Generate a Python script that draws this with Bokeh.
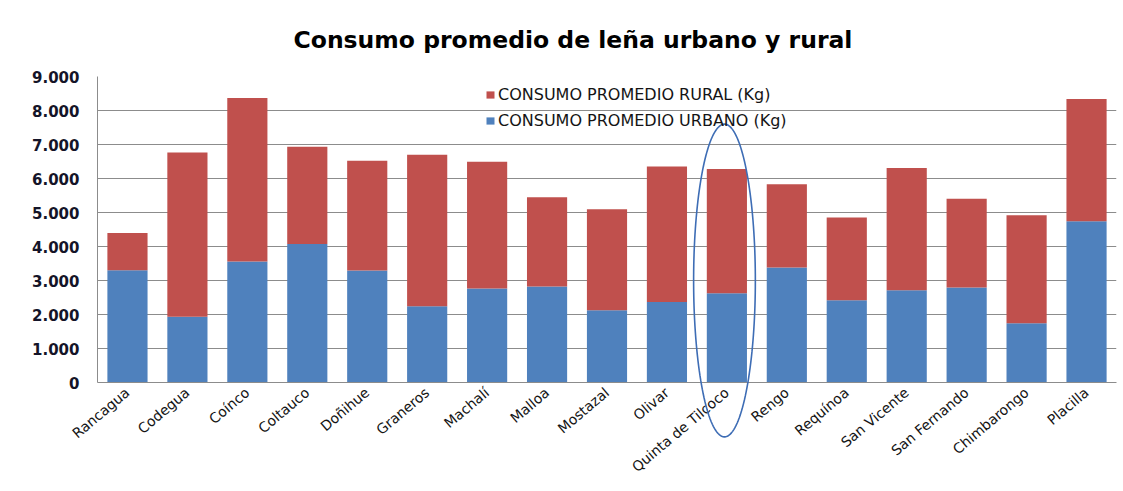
import numpy as np
from bokeh.plotting import figure
from bokeh.models import (FactorRange, Range1d, Legend, LegendItem, FixedTicker,
                          CustomJSTickFormatter, ColumnDataSource)
from bokeh.embed import file_html
from bokeh.resources import INLINE

# ---- data ----
comunas = ["Rancagua", "Codegua", "Coínco", "Coltauco", "Doñihue", "Graneros",
           "Machalí", "Malloa", "Mostazal", "Olivar", "Quinta de Tilcoco", "Rengo",
           "Requínoa", "San Vicente", "San Fernando", "Chimbarongo", "Placilla"]
urbano = [3300, 1935, 3560, 4076, 3296, 2240, 2768, 2827, 2125, 2370, 2625, 3380,
          2420, 2712, 2792, 1745, 4742]
total = [4400, 6765, 8370, 6933, 6522, 6698, 6493, 5446, 5094, 6350, 6280, 5829,
         4850, 6308, 5408, 4918, 8336]
rural = [t - u for t, u in zip(total, urbano)]
y_ticks = [0, 1000, 2000, 3000, 4000, 5000, 6000, 7000, 8000, 9000]
serie_rural = "CONSUMO PROMEDIO RURAL (Kg)"
serie_urbano = "CONSUMO PROMEDIO URBANO (Kg)"
titulo = "Consumo promedio de leña urbano y rural"
destacado = "Quinta de Tilcoco"

BLUE = "#4F81BD"
RED = "#C0504D"
GRID = "#8C8C8C"

Y_MAX = 9000
W, H = 1120, 490
FR_LEFT, FR_RIGHT, FR_TOP, FR_BOTTOM = 97, 1116, 75, 382

src = ColumnDataSource(dict(comuna=comunas, urbano=urbano, rural=rural))

p = figure(x_range=FactorRange(*comunas, range_padding=0), y_range=Range1d(0, Y_MAX),
           width=W, height=H, output_backend="svg", toolbar_location=None,
           min_border_left=FR_LEFT, min_border_right=W - FR_RIGHT,
           min_border_top=FR_TOP, min_border_bottom=H - FR_BOTTOM)

rs = p.vbar_stack(["urbano", "rural"], x="comuna", width=0.67, source=src,
                  color=[BLUE, RED], line_color=None)

# title
p.title.text = titulo
p.title.text_font = "DejaVu Sans"
p.title.text_font_style = "bold"
p.title.text_font_size = "23.5px"
p.title.text_color = "#000000"
p.title.align = "left"
p.title.offset = 196
p.title.standoff = 46

# axes
p.xaxis.major_label_orientation = 0.70
p.xaxis.major_label_text_font = "DejaVu Sans"
p.xaxis.major_label_text_font_size = "14px"
p.xaxis.major_label_text_color = "#141414"
p.xaxis.major_label_standoff = 2
p.xaxis.major_tick_line_color = None
p.xaxis.axis_line_color = GRID

p.yaxis.ticker = FixedTicker(ticks=y_ticks)
p.yaxis.formatter = CustomJSTickFormatter(code="""
    if (tick == 0) return '0';
    return (tick/1000).toFixed(0) + '.000';
""")
p.yaxis.major_label_text_font = "DejaVu Sans"
p.yaxis.major_label_text_font_style = "bold"
p.yaxis.major_label_text_font_size = "15px"
p.yaxis.major_label_text_color = "#141428"
p.yaxis.major_label_standoff = 12
p.yaxis.major_tick_line_color = None
p.yaxis.minor_tick_line_color = None
p.yaxis.axis_line_color = GRID

p.xgrid.grid_line_color = None
p.ygrid.grid_line_color = GRID
p.ygrid.grid_line_width = 1
p.outline_line_color = None

# legend
legend = Legend(items=[LegendItem(label=serie_rural, renderers=[rs[1]]),
                       LegendItem(label=serie_urbano, renderers=[rs[0]])],
                location=(388, FR_BOTTOM - 130), orientation="vertical",
                background_fill_alpha=0, border_line_color=None,
                padding=0, margin=0, spacing=6, label_standoff=3,
                glyph_width=10, glyph_height=9, label_height=20,
                label_text_font="DejaVu Sans", label_text_font_size="16px",
                label_text_color="#141414")
p.add_layout(legend, "center")

# highlight ellipse around one comuna (overlay level, reaches into the label area)
idx = comunas.index(destacado)
t = np.linspace(0, 2 * np.pi, 160)
cx, cy = idx + 0.5 - 0.04, 3000
ax_half, ay_half = 0.515, 4600
p.line(x=cx + ax_half * np.cos(t), y=cy + ay_half * np.sin(t),
       line_color="#3E6DB5", line_width=1.6, level="overlay")

open("out.html", "w").write(file_html(p, INLINE))
